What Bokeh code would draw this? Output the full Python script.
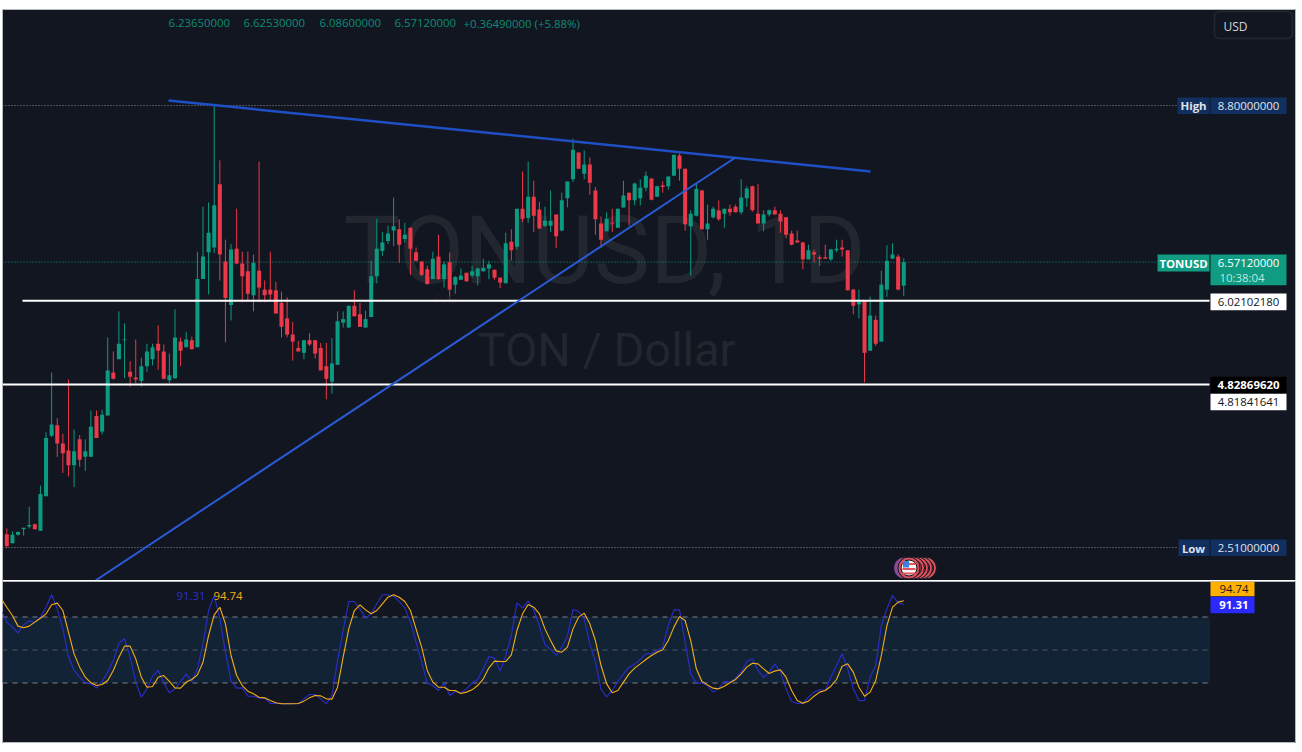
from bokeh.plotting import figure
from bokeh.layouts import column
from bokeh.models import BoxAnnotation
from bokeh.core.properties import value
from bokeh.embed import file_html
from bokeh.resources import INLINE

# ---- data ----
OPEN = [2.70,2.57,2.69,2.77,2.81,2.84,2.75,3.24,4.10,4.25,3.99,3.89,3.68,4.05,3.80,3.80,4.38,4.16,4.39,5.00,5.19,5.46,5.01,4.93,4.88,5.09,5.19,5.41,5.30,4.89,
4.92,5.44,5.36,5.46,5.36,6.33,6.71,6.78,7.68,6.58,5.96,6.76,6.55,6.44,6.10,6.45,6.18,6.18,6.17,5.99,5.77,5.54,5.35,5.28,5.46,5.46,5.35,5.09,4.87,5.11,
5.71,5.64,5.95,5.83,5.64,5.79,6.37,6.73,6.87,7.02,7.04,6.90,7.06,6.71,6.58,6.47,6.33,6.65,6.33,6.57,6.25,6.32,6.42,6.38,6.37,6.44,6.48,6.46,6.35,6.27,
6.86,6.79,7.33,7.20,7.50,7.32,7.09,7.09,7.25,7.02,7.48,7.75,8.13,7.83,7.96,7.59,7.12,7.01,7.13,7.06,7.35,7.56,7.45,7.48,7.63,7.76,7.50,7.66,7.65,7.80,
8.09,7.90,7.08,7.23,7.59,7.04,7.21,7.31,7.26,7.33,7.36,7.28,7.48,7.65,7.26,7.12,7.25,7.31,7.26,7.21,6.98,6.88,6.85,6.61,6.71,6.64,6.64,6.61,6.74,6.78,
6.74,6.18,5.97,6.02,5.31,5.75,5.44,6.18,6.62,6.65,6.2365]
HIGH = [2.78,2.74,2.74,2.79,3.09,2.85,3.39,4.15,5.00,4.35,4.13,4.90,4.19,4.11,4.05,4.46,4.46,4.47,5.50,5.30,5.87,5.70,5.16,5.47,5.21,5.41,5.41,5.67,5.40,5.27,
5.90,5.50,5.58,5.51,6.72,7.36,7.42,8.80,8.02,6.89,6.83,7.33,6.72,6.72,6.68,8.00,6.31,6.72,6.29,6.15,6.07,5.72,5.45,5.46,5.56,5.46,5.42,5.42,5.49,5.87,
5.87,5.95,6.17,5.99,5.88,6.59,7.19,7.00,7.09,7.49,7.18,7.13,7.06,6.78,6.58,6.52,6.72,6.96,6.58,6.71,6.37,6.48,6.42,6.52,6.49,6.62,6.59,6.47,6.35,6.99,
7.04,7.33,7.86,8.00,7.73,7.43,7.36,7.59,7.25,7.56,7.72,8.33,8.13,8.16,8.06,7.64,7.22,7.28,7.33,7.33,7.73,7.56,7.70,7.75,7.86,7.76,7.66,7.72,7.79,8.10,
8.12,7.90,7.31,7.69,7.60,7.39,7.36,7.45,7.33,7.39,7.39,7.75,7.65,7.66,7.68,7.31,7.32,7.36,7.31,7.21,7.02,7.02,6.86,6.82,6.75,6.67,6.82,6.76,6.89,6.89,
6.74,6.19,6.18,6.02,6.08,5.81,6.45,6.81,6.84,6.68,6.6253]
LOW = [2.50,2.57,2.68,2.68,2.78,2.77,2.75,3.24,4.08,3.80,3.57,3.52,3.37,3.66,3.60,3.80,4.07,4.12,4.39,4.90,5.19,4.92,4.80,4.85,4.80,5.01,5.10,5.04,4.90,4.85,
4.91,5.09,5.36,5.33,5.36,6.33,6.11,6.70,6.31,5.43,5.74,6.54,6.00,6.02,5.87,6.00,6.00,6.02,5.84,5.50,5.50,5.17,5.30,5.19,5.38,5.20,5.03,4.62,4.70,5.11,
5.64,5.64,5.80,5.65,5.64,5.79,6.27,6.66,6.83,6.80,6.56,6.85,6.39,6.58,6.37,6.25,6.33,6.32,6.21,6.02,6.12,6.32,6.29,6.35,6.24,6.44,6.33,6.32,6.20,6.27,
6.59,6.75,7.14,7.13,7.00,7.05,7.07,7.00,6.77,7.01,7.35,7.71,7.90,7.75,7.53,6.96,6.77,7.01,7.00,7.06,7.35,7.09,7.38,7.38,7.58,7.45,7.50,7.56,7.60,7.80,
7.73,7.02,6.38,7.22,7.04,6.89,7.19,7.16,7.06,7.23,7.28,7.25,7.36,7.29,7.12,7.01,7.22,7.25,6.99,6.91,6.81,6.85,6.47,6.61,6.57,6.52,6.62,6.59,6.71,6.65,
6.17,5.83,5.77,4.86,5.31,5.38,5.44,6.08,6.62,6.17,6.086]
CLOSE = [2.53,2.69,2.73,2.79,2.83,2.77,3.27,4.07,4.26,3.99,3.85,3.68,3.88,3.76,3.88,4.23,4.07,4.40,5.03,4.91,5.41,5.47,4.94,4.90,5.09,5.30,5.36,5.31,4.91,4.96,
5.50,5.31,5.47,5.33,6.33,6.65,6.99,7.38,6.68,6.06,6.75,6.55,6.37,6.12,6.56,6.21,6.10,6.11,5.84,5.65,5.54,5.44,5.30,5.46,5.40,5.27,5.03,4.91,5.13,5.73,
5.76,5.95,5.80,5.65,5.76,6.37,6.76,6.85,6.98,7.08,6.82,6.96,6.76,6.59,6.39,6.26,6.62,6.33,6.54,6.18,6.36,6.38,6.30,6.44,6.48,6.49,6.54,6.35,6.28,6.84,
6.74,7.33,7.19,7.50,7.23,7.05,7.16,7.16,6.94,7.45,7.72,8.17,7.90,7.96,7.70,7.18,6.89,7.19,7.12,7.33,7.52,7.45,7.69,7.63,7.80,7.46,7.65,7.64,7.79,8.10,
7.90,7.11,7.26,7.61,7.04,7.12,7.33,7.18,7.33,7.28,7.28,7.49,7.62,7.31,7.12,7.25,7.31,7.25,7.15,6.96,6.82,6.85,6.61,6.74,6.68,6.62,6.62,6.75,6.76,6.75,
6.17,5.95,6.01,5.28,5.81,5.41,6.25,6.59,6.68,6.18,6.5712]
# stochastic starts one bar before the first candle
STOCH_K = [85.9,75.3,70.8,65.6,72.9,76.5,75.3,79.9,88.9,100.2,87.4,69.2,44.1,31.4,25.3,20.2,19.2,15.3,21.4,29.9,40.5,56.2,60.2,43.5,20.8,7.1,14.7,26.2,31.4,20.2,
11.1,14.7,21.4,28.0,21.4,32.9,55.6,85.9,99.5,78.3,48.0,21.4,15.3,15.6,8.0,8.0,6.2,6.2,1.4,1.4,1.1,1.1,1.1,1.1,5.6,9.5,9.5,5.6,1.1,8.6,
40.5,67.7,94.1,94.1,87.4,78.9,82.9,92.0,100.2,100.2,98.9,94.1,88.3,75.3,57.1,38.9,19.9,17.7,13.2,19.9,8.6,12.3,11.1,14.7,20.2,23.2,32.9,44.1,42.6,30.8,
45.0,63.2,92.9,88.0,94.7,85.9,71.7,54.7,50.5,45.0,52.6,62.6,86.8,85.0,78.3,55.6,38.9,14.1,7.4,13.2,21.4,28.3,34.4,37.1,41.4,46.5,46.8,49.5,52.6,72.3,
86.5,86.5,57.1,28.3,19.9,19.9,17.7,11.7,15.3,21.4,20.8,24.4,29.9,39.5,42.0,31.4,25.0,29.9,37.4,29.9,14.7,3.2,1.4,1.4,7.1,11.7,13.8,13.2,25.3,35.9,
46.5,32.9,14.7,4.1,4.1,25.3,35.9,72.3,87.4,99.5,92.9,91.4]
STOCH_D = [96.5,88.9,81.4,71.7,70.2,71.7,75.3,78.9,82.9,91.1,92.6,85.9,66.2,46.5,34.4,25.3,20.2,17.7,18.6,22.3,31.4,43.5,53.5,53.5,42.0,25.3,16.2,16.8,25.3,26.8,21.4,15.6,15.3,20.8,23.2,27.4,38.9,63.2,82.0,88.9,73.8,45.0,26.8,17.7,12.6,10.2,7.1,6.5,4.1,2.0,1.1,1.1,1.1,1.4,3.5,6.5,8.6,8.3,5.6,5.3,16.2,43.5,69.2,85.9,91.1,86.5,82.9,85.9,92.0,98.0,100.2,98.0,94.1,85.9,69.2,52.6,31.4,20.8,16.2,16.2,13.2,13.2,10.5,11.7,13.8,17.7,23.8,33.8,39.9,39.5,39.5,45.6,67.7,82.9,91.4,88.9,82.9,69.2,58.6,49.2,48.0,52.6,69.2,79.9,83.5,73.8,58.6,35.9,19.2,11.1,13.2,20.8,28.3,33.5,37.4,41.4,45.0,48.0,50.2,58.6,70.8,80.5,76.8,58.6,32.9,21.4,18.3,15.3,14.7,17.1,20.2,23.2,28.3,34.4,38.0,37.4,32.9,28.6,30.8,32.0,25.3,13.2,4.1,1.7,3.5,8.0,11.7,13.2,17.1,23.2,35.3,37.4,29.9,16.2,8.0,11.7,22.3,45.0,72.3,88.9,93.5,94.7]
assert len(OPEN)==len(HIGH)==len(LOW)==len(CLOSE)==161 and len(STOCH_K)==len(STOCH_D)==162

HIGH_LEVEL, LOW_LEVEL, LAST_PRICE = 8.8, 2.51, 6.5712
LEVEL_A, LEVEL_B, LEVEL_C = 6.0210218, 4.8286962, 4.81841641
TREND_DOWN_X, TREND_DOWN_Y = [28.84, 154.07], [8.871, 7.861]
TREND_UP_X, TREND_UP_Y = [15.82, 129.98], [2.04, 8.06]
OHLC_TEXTS = ["6.23650000", "6.62530000", "6.08600000", "6.57120000", "+0.36490000 (+5.88%)"]

# ---- page geometry: bars and prices to pixels ----
BAR_PX, BAR0_PX = 5.606, 6.3
PRICE_PX, PRICE0_Y = 70.27, 105.0
ST_PX, ST0_Y = 1.1, 704.5
LEFT, RIGHT, TOP, MID, BOTTOM = 2, 1296, 9, 581, 743
BG = "#121620"
FONT = value("Open Sans")

def X(px): return (px - BAR0_PX) / BAR_PX
def Y(py): return HIGH_LEVEL - (py - PRICE0_Y) / PRICE_PX
def S(py): return (ST0_Y - py) / ST_PX

common = dict(x_axis_type=None, y_axis_type=None, toolbar_location=None, output_backend="svg",
              width=RIGHT - LEFT, background_fill_color=BG, border_fill_color=BG,
              outline_line_color="#b5b8c0", outline_line_width=1,
              min_border=0, min_border_left=0, min_border_right=0, min_border_top=0, min_border_bottom=0)

p = figure(height=MID - TOP, x_range=(X(LEFT), X(RIGHT)), y_range=(Y(MID), Y(TOP)), **common)
p.grid.visible = False

def label(fig, yf, px, py, s, color, size="11.4px", align="center", style="normal", font=FONT):
    fig.text(x=[X(px)], y=[yf(py)], text=[s], text_color=color, text_font=font, text_font_size=size,
             text_align=align, text_baseline="middle", text_font_style=style)

def tag(fig, yf, x0, x1, y0, y1, color):
    fig.quad(left=[X(x0)], right=[X(x1)], top=[yf(y0)], bottom=[yf(y1)], fill_color=color, line_color=None)

# watermark
label(p, Y, 604, 250, "TONUSD, 1D", "#22262f", size="95px", font=value("Roboto"))
label(p, Y, 606, 349, "TON / Dollar", "#22262f", size="47px", font=value("Roboto"))

# dotted guide lines
p.line([X(LEFT), X(1176)], [HIGH_LEVEL]*2, line_color="#8a8d96", line_dash="1 2", line_width=1)
p.line([X(LEFT), X(1176)], [LOW_LEVEL]*2, line_color="#8a8d96", line_dash="1 2", line_width=1)
p.line([X(LEFT), X(1158)], [LAST_PRICE]*2, line_color="#0c9a80", line_dash="1 2", line_width=1)

# candles
GREEN, RED = "#0c9a80", "#ea3948"
idx = list(range(len(OPEN)))
cols = [GREEN if c >= o else RED for o, c in zip(OPEN, CLOSE)]
p.segment(idx, LOW, idx, HIGH, line_color=cols, line_width=1)
p.vbar(x=idx, width=0.72, top=[max(a, b) for a, b in zip(OPEN, CLOSE)],
       bottom=[min(a, b) for a, b in zip(OPEN, CLOSE)], fill_color=cols, line_color=None)

label(p, Y, 445, 299, "FVG", "#1b1d24", size="12px")

# white support lines
p.line([X(22), X(1209)], [LEVEL_A]*2, line_color="#ffffff", line_width=2)
p.line([X(LEFT), X(1209)], [LEVEL_B]*2, line_color="#ffffff", line_width=2)

# trend lines
p.line(TREND_DOWN_X, TREND_DOWN_Y, line_color="#1e4fc4", line_width=2.5)
p.line(TREND_UP_X, TREND_UP_Y, line_color="#2a5ad6", line_width=2)

# legend row
for px, s in zip([168, 243, 319, 394, 463], OHLC_TEXTS):
    label(p, Y, px, 22.5, s, "#0e8c76", align="left")

# USD button
p.add_layout(BoxAnnotation(left=X(1214), right=X(1292), top=Y(11), bottom=Y(38), fill_alpha=0,
                           line_color="#4a4e59", line_width=1.5, border_radius=5))
label(p, Y, 1223, 25.5, "USD", "#d1d4dc", size="12px", align="left")

# price tags
NAVY = "#12305f"
tag(p, Y, 1177, 1209, 97, 113.5, NAVY); tag(p, Y, 1210, 1286, 97, 113.5, NAVY)
label(p, Y, 1193, 105, "High", "#e0e3eb", style="bold")
label(p, Y, 1248, 105, "8.80000000", "#e0e3eb")
tag(p, Y, 1178, 1209, 539, 555.5, NAVY); tag(p, Y, 1210, 1286, 539, 555.5, NAVY)
label(p, Y, 1193, 547.5, "Low", "#e0e3eb", style="bold")
label(p, Y, 1248, 547.5, "2.51000000", "#e0e3eb")
tag(p, Y, 1157, 1209, 254, 271, "#0f9c82"); tag(p, Y, 1210, 1286, 254, 284.7, "#0f9c82")
label(p, Y, 1183, 262.5, "TONUSD", "#ffffff", style="bold")
label(p, Y, 1248, 262.5, "6.57120000", "#ffffff")
label(p, Y, 1219, 277, "10:38:04", "#bfe6dc", align="left")
tag(p, Y, 1210, 1286, 293, 309.7, "#ffffff")
label(p, Y, 1248, 301.5, "6.02102180", "#131722")
tag(p, Y, 1210, 1286, 376.3, 393, "#000000")
label(p, Y, 1248, 384.7, "4.82869620", "#ffffff", style="bold")
tag(p, Y, 1210, 1286, 393.3, 409.7, "#ffffff")
label(p, Y, 1248, 401.5, "4.81841641", "#131722")

# calendar event badges
for px, c in [(904, "#8a4a96"), (925, "#d9505c"), (921, "#d9505c"), (917, "#d9505c"), (913, "#d9505c"), (908.5, "#d9505c")]:
    p.scatter([X(px)], [Y(567.5)], size=22, fill_color=c, line_color="#131722", line_width=1)
    if c != "#8a4a96":
        p.scatter([X(px)], [Y(567.5)], size=16, fill_color=c if px != 908.5 else "#f4f4f6", line_color="#0d0f14", line_width=1)
for py in (563.5, 568.5, 573):
    p.segment([X(902)], [Y(py)], [X(915)], [Y(py)], line_color="#e05560", line_width=2)
p.quad(left=[X(902.5)], right=[X(908.5)], top=[Y(560.5)], bottom=[Y(567)], fill_color="#3f7fe0", line_color=None)

# separator
p.line([X(LEFT), X(RIGHT)], [Y(580.3)]*2, line_color="#ffffff", line_width=1.5)

# ---- stochastic pane ----
q = figure(height=BOTTOM - MID, x_range=(X(LEFT), X(RIGHT)), y_range=(S(BOTTOM), S(MID)), **common)
q.grid.visible = False
BAND_HI, BAND_MID, BAND_LO = 80, 50, 20
q.quad(left=[X(LEFT)], right=[X(1209.5)], top=[BAND_HI], bottom=[BAND_LO], fill_color="#132336", line_color=None)
q.line([X(LEFT), X(1209.5)], [BAND_HI]*2, line_color="#7c808b", line_dash="5 5", line_width=1)
q.line([X(LEFT), X(1209.5)], [BAND_MID]*2, line_color="#4f5460", line_dash="5 5", line_width=1)
q.line([X(LEFT), X(1209.5)], [BAND_LO]*2, line_color="#7c808b", line_dash="5 5", line_width=1)
st_idx = list(range(-1, 161))
q.line(st_idx, STOCH_K, line_color="#2a2ecf", line_width=1.1)
q.line(st_idx, STOCH_D, line_color="#f5ae16", line_width=1.1)
label(q, S, 176, 595.5, "91.31", "#2a2ecf", align="left")
label(q, S, 213, 595.5, "94.74", "#f5ae16", align="left")
tag(q, S, 1210, 1254, 581, 595.7, "#ffb000")
label(q, S, 1248, 588.5, "94.74", "#131722", align="right")
tag(q, S, 1210, 1254, 596.3, 612.7, "#2a2aff")
label(q, S, 1248, 604.5, "91.31", "#ffffff", align="right", style="bold")

layout = column(p, q, spacing=0, margin=(9, 0, 0, 2))
open("out.html", "w").write(file_html(layout, INLINE))
